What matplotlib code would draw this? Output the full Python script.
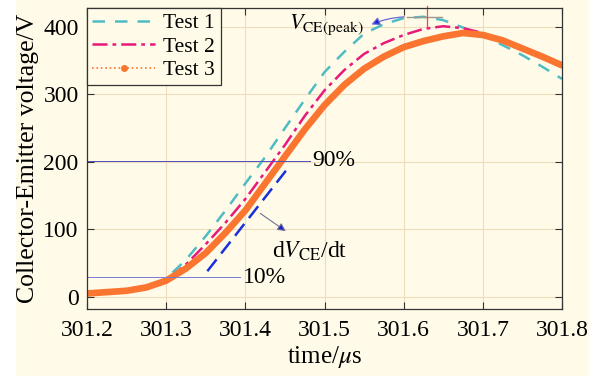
import matplotlib
matplotlib.use("Agg")
import matplotlib.pyplot as plt
from matplotlib.lines import Line2D
from matplotlib.patches import Rectangle

##### datos #####
tiempo = [301.2, 301.225, 301.25, 301.275, 301.3, 301.325, 301.35, 301.375, 301.4,
          301.425, 301.45, 301.475, 301.5, 301.525, 301.55, 301.575, 301.6, 301.625,
          301.65, 301.675, 301.7, 301.725, 301.75, 301.775, 301.8]
test1 = [5, 6, 9, 15, 27, 55, 90, 128, 168, 207, 250, 292, 333, 363, 390, 404, 413, 415,
         410, 399, 388, 373, 358, 341, 323]
test2 = [4, 5, 7, 12, 24, 48, 78, 110, 145, 185, 225, 268, 306, 336, 360, 376, 388, 397,
         401, 398, 391, 380, 368, 355, 340]
test3 = [5, 7, 9, 14, 24, 42, 65, 95, 128, 168, 208, 248, 284, 314, 338, 356, 370, 379,
         386, 391, 388, 380, 368, 356, 343]
nombres = ["Test 1", "Test 2", "Test 3"]
xticks = [301.2, 301.3, 301.4, 301.5, 301.6, 301.7, 301.8]
yticks = [0, 100, 200, 300, 400]
nivel_10 = 29
nivel_90 = 202
pico = 415
######################################

plt.rcParams['font.family'] = ['Liberation Serif', 'DejaVu Serif']
plt.rcParams['mathtext.fontset'] = 'stix'
plt.rcParams['font.size'] = 16

fondo = "#fffbe8"
c1 = "#4fbcc4"
c2 = "#e8197a"
c3 = "#fa7530"

fig = plt.figure(figsize=(5.95, 3.76), dpi=100, facecolor=fondo)
# bordes blancos de la imagen original
fig.patches.append(Rectangle((0, 0), 15 / 595, 1, transform=fig.transFigure,
                             color="white", zorder=-10))
fig.patches.append(Rectangle((589 / 595, 0), 6 / 595, 1, transform=fig.transFigure,
                             color="white", zorder=-10))

ax = fig.add_axes([87 / 595, 67 / 376, 475 / 595, 301 / 376])
ax.set_facecolor(fondo)

ax.plot(tiempo, test1, color=c1, lw=1.8, ls=(0, (5, 4)))
ax.plot(tiempo, test2, color=c2, lw=1.8, ls=(0, (6, 2, 1.5, 2)))
ax.plot(tiempo, test3, color=c3, lw=4.8, solid_capstyle='round')

# lineas de 10% y 90%
ax.plot([301.2, 301.393], [nivel_10, nivel_10], color="#7a7ad8", lw=0.7)
ax.plot([301.2, 301.482], [nivel_90, nivel_90], color="#5050c0", lw=0.7)
ax.text(301.397, nivel_10, "10%", va='center', ha='left', fontsize=17)
ax.text(301.485, nivel_90, "90%", va='center', ha='left', fontsize=17)

# pendiente dV/dt
ax.plot([301.352, 301.452], [38, 188], color="#1a30d8", lw=1.8, ls=(0, (6, 3)))
ax.annotate("", xy=(301.454, 95), xytext=(301.416, 126),
            arrowprops=dict(arrowstyle='-|>', color="#707090", lw=0.8,
                            mutation_scale=12, fc="#1a20d0", ec="#707090"))
ax.text(301.434, 68, r"d$V_{\rm CE}$/dt", va='center', ha='left', fontsize=17)

# pico
ax.plot([301.604, 301.648], [pico, pico], color="#a09888", lw=1.0)
ax.plot([301.629, 301.629], [398, 431], color="#ff4040", lw=0.9, clip_on=False)
ax.annotate("", xy=(301.556, 402), xytext=(301.604, pico),
            arrowprops=dict(arrowstyle='-|>', color="#6a6ad8", lw=0.9,
                            mutation_scale=12, fc="#1a20d0",
                            connectionstyle="arc3,rad=0.1"))
ax.text(301.455, 403, r"$V_{\rm CE(peak)}$", va='center', ha='left', fontsize=16)

ax.set_xlim(301.2, 301.8)
ax.set_ylim(-18, 428)
ax.set_xticks(xticks)
ax.set_xticklabels([str(x) for x in xticks])
ax.set_yticks(yticks)
ax.grid(True, color="#efdcbc", lw=0.8)
ax.set_axisbelow(True)
ax.tick_params(direction='in', top=True, right=True, length=5, color="#333333",
               labelsize=17)
ax.tick_params(axis='x', pad=8)
ax.tick_params(axis='y', pad=6)
for s in ax.spines.values():
    s.set_color("#333333")
    s.set_linewidth(0.9)

ax.set_xlabel(r"time/$\mu$s", fontsize=18, labelpad=2)
ax.set_ylabel("Collector-Emitter voltage/V", fontsize=18.5, labelpad=3)

handles = [Line2D([], [], color=c1, lw=1.8, ls=(0, (5, 4))),
           Line2D([], [], color=c2, lw=1.8, ls=(0, (6, 2, 1.5, 2))),
           Line2D([], [], color=c3, lw=1.2, ls=':', marker='o', markersize=4)]
leg = ax.legend(handles, nombres, loc='upper left', borderaxespad=0.0,
                fancybox=False, framealpha=1, facecolor=fondo, edgecolor="#333333",
                handlelength=2.9, handletextpad=0.4, labelspacing=0.15,
                borderpad=0.25, fontsize=15.5)
leg.get_frame().set_linewidth(0.9)

plt.savefig("out.png", dpi=100, facecolor=fondo)
